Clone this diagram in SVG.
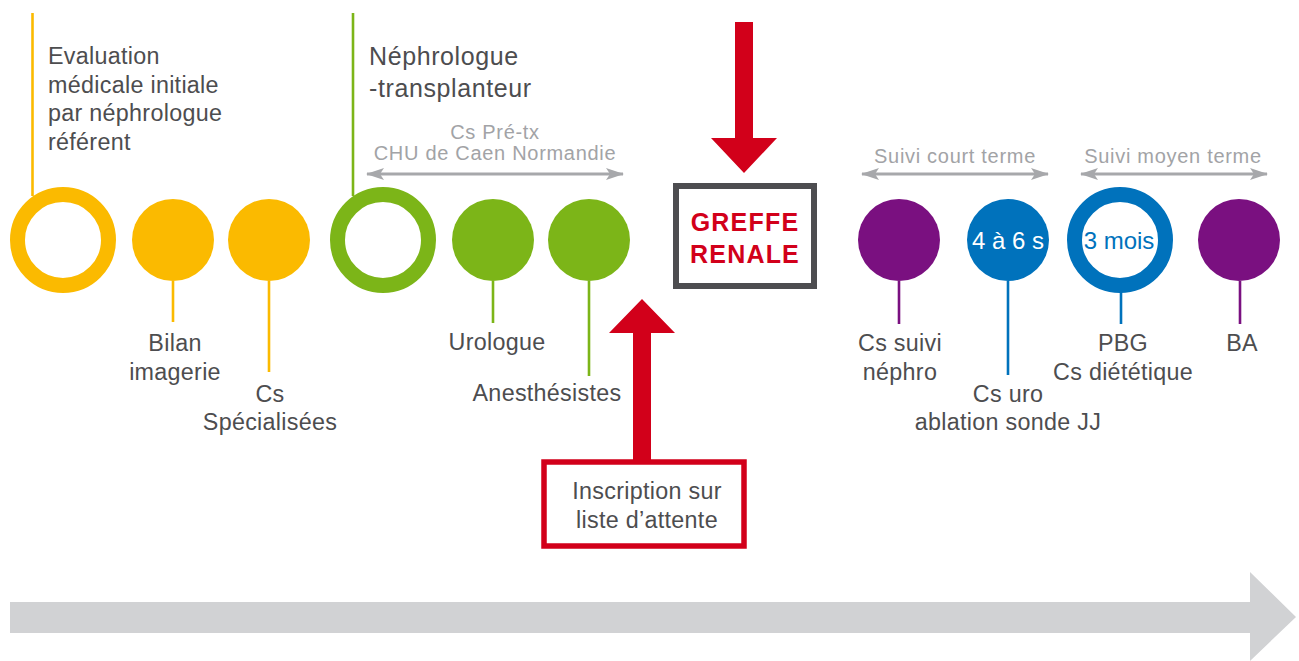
<svg xmlns="http://www.w3.org/2000/svg" width="1299" height="661" viewBox="0 0 1299 661">
<style>
text{font-family:"Liberation Sans",Arial,sans-serif;}
.lbl{font-size:23.3px;letter-spacing:0.3px;fill:#4d4d4f;}
.big{font-size:25px;letter-spacing:0.6px;fill:#4d4d4f;}
.sm{font-size:20px;letter-spacing:0.7px;fill:#a2a3a6;text-anchor:middle;}
.c{text-anchor:middle;}
.y{fill:#fbba00;} .ys{stroke:#fbba00;}
.g{fill:#7cb518;} .gs{stroke:#7cb518;}
.p{fill:#7a1080;} .ps{stroke:#7a1080;}
.b{fill:#0072bc;} .bs{stroke:#0072bc;}
.stem{stroke-width:2.6;fill:none;}
.ring{fill:#fff;stroke-width:15;}
.dbl{stroke:#a7a8ab;stroke-width:3;fill:none;marker-start:url(#ah);marker-end:url(#ah);}
.gr{font-size:25px;font-weight:bold;letter-spacing:1.2px;fill:#d2001a;text-anchor:middle;}
</style>
<defs>
<marker id="ah" viewBox="0 0 18 12" refX="17" refY="6" markerWidth="18" markerHeight="12" markerUnits="userSpaceOnUse" orient="auto-start-reverse">
<path d="M0,0 L18,6 L0,12 L4,6 Z" fill="#a7a8ab"/>
</marker>
</defs>

<g id="timeline-arrow">
<polygon points="10,602 1250,602 1250,572 1296,617 1250,661 1250,633 10,633" fill="#d1d2d4"/>
</g>

<g id="connectors">
<line class="stem ys" x1="32.5" y1="13" x2="32.5" y2="196"/>
<line class="stem ys" x1="173" y1="281" x2="173" y2="322"/>
<line class="stem ys" x1="269" y1="281" x2="269" y2="372"/>
<line class="stem gs" x1="353" y1="13" x2="353" y2="196"/>
<line class="stem gs" x1="493" y1="281" x2="493" y2="323"/>
<line class="stem gs" x1="589" y1="281" x2="589" y2="376"/>
<line class="stem ps" x1="899" y1="281" x2="899" y2="324"/>
<line class="stem bs" x1="1008" y1="281" x2="1008" y2="375"/>
<line class="stem bs" x1="1121" y1="290" x2="1121" y2="324"/>
<line class="stem ps" x1="1240" y1="281" x2="1240" y2="324"/>
<line class="dbl" x1="367" y1="174" x2="623" y2="174"/>
<line class="dbl" x1="862" y1="174" x2="1048" y2="174"/>
<line class="dbl" x1="1081" y1="174" x2="1267" y2="174"/>
<polygon id="arrow-down" points="735,22 753,22 753,138 777,138 744,173 711,138 735,138" fill="#d2001a"/>
<polygon id="arrow-up" points="633,460 651,460 651,333 675,333 642,299 609,333 633,333" fill="#d2001a"/>
</g>

<g id="n-evaluation">
<circle class="ring ys" cx="63" cy="240" r="45.5"/>
<text class="lbl" x="48" y="64">Evaluation</text>
<text class="lbl" x="48" y="92.5">médicale initiale</text>
<text class="lbl" x="48" y="121">par néphrologue</text>
<text class="lbl" x="48" y="149.5">référent</text>
</g>
<g id="n-bilan">
<circle class="y" cx="173" cy="240" r="41"/>
<text class="lbl c" x="175" y="351">Bilan</text>
<text class="lbl c" x="175" y="380">imagerie</text>
</g>
<g id="n-cs-spec">
<circle class="y" cx="269" cy="240" r="41"/>
<text class="lbl c" x="270" y="402">Cs</text>
<text class="lbl c" x="270" y="430">Spécialisées</text>
</g>
<g id="n-nephro-tx">
<circle class="ring gs" cx="383" cy="240" r="45.5"/>
<text class="big" x="369" y="65">Néphrologue</text>
<text class="big" x="369" y="97">-transplanteur</text>
<text class="sm" x="495" y="139">Cs Pré-tx</text>
<text class="sm" x="495" y="160">CHU de Caen Normandie</text>
</g>
<g id="n-urologue">
<circle class="g" cx="493" cy="240" r="41"/>
<text class="lbl c" x="497" y="350">Urologue</text>
</g>
<g id="n-anesth">
<circle class="g" cx="589" cy="240" r="41"/>
<text class="lbl c" x="547" y="401">Anesthésistes</text>
</g>
<g id="n-greffe">
<rect x="676" y="186" width="138" height="100" fill="#fff" stroke="#4d4d50" stroke-width="6"/>
<text class="gr" x="745" y="231">GREFFE</text>
<text class="gr" x="745" y="263">RENALE</text>
</g>
<g id="n-inscription">
<rect x="544" y="462" width="200" height="84" fill="#fff" stroke="#d2001a" stroke-width="5.5"/>
<text class="lbl c" x="647" y="499">Inscription sur</text>
<text class="lbl c" x="647" y="528">liste d’attente</text>
</g>
<g id="n-suivi-nephro">
<circle class="p" cx="899" cy="240" r="41"/>
<text class="lbl c" x="900" y="351">Cs suivi</text>
<text class="lbl c" x="900" y="380">néphro</text>
<text class="sm" x="955" y="163">Suivi court terme</text>
</g>
<g id="n-4a6s">
<circle class="b" cx="1008" cy="240" r="41"/>
<text class="c" x="1008" y="249" font-size="24" fill="#fff">4 à 6 s</text>
<text class="lbl c" x="1008" y="402">Cs uro</text>
<text class="lbl c" x="1008" y="430">ablation sonde JJ</text>
</g>
<g id="n-3mois">
<circle class="ring bs" cx="1120" cy="240" r="45.5"/>
<text class="c" x="1119" y="249" font-size="24" fill="#0072bc">3 mois</text>
<text class="lbl c" x="1123" y="351">PBG</text>
<text class="lbl c" x="1123" y="380">Cs diététique</text>
<text class="sm" x="1173" y="163">Suivi moyen terme</text>
</g>
<g id="n-ba">
<circle class="p" cx="1239" cy="240" r="41"/>
<text class="lbl c" x="1242" y="351">BA</text>
</g>
</svg>
